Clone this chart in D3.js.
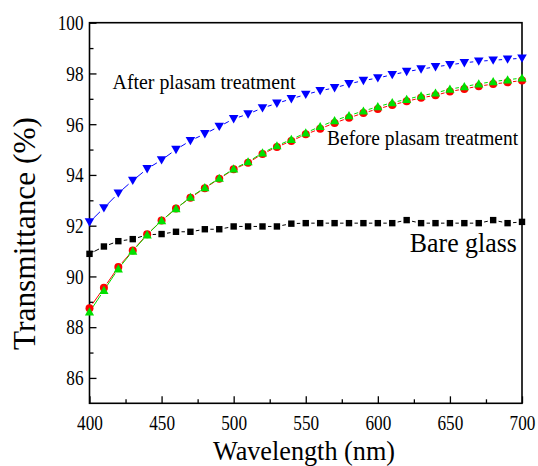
<!DOCTYPE html>
<html><head><meta charset="utf-8">
<script src="https://cdn.jsdelivr.net/npm/d3@7"></script>
<style>
html,body{margin:0;padding:0;background:#fff;}
</style></head>
<body><svg id="chart" width="538" height="466"></svg>
<script>
const wavelength = [400,410,420,430,440,450,460,470,480,490,500,510,520,530,540,550,560,570,580,590,600,610,620,630,640,650,660,670,680,690,700];
const bareGlass = [90.89,91.18,91.39,91.47,91.64,91.67,91.76,91.76,91.86,91.86,91.97,91.97,91.97,91.97,92.08,92.1,92.1,92.1,92.1,92.1,92.1,92.1,92.22,92.1,92.1,92.1,92.1,92.1,92.22,92.1,92.15];
const afterPlasma = [92.14,92.70,93.28,93.78,94.24,94.59,95.0,95.35,95.62,95.91,96.21,96.40,96.64,96.82,97.0,97.17,97.32,97.43,97.59,97.72,97.82,97.95,98.07,98.17,98.26,98.34,98.42,98.48,98.52,98.56,98.6];
const beforeGreen = [88.6,89.45,90.30,91.0,91.64,92.2,92.67,93.12,93.5,93.87,94.24,94.52,94.87,95.15,95.4,95.66,95.91,96.14,96.34,96.52,96.69,96.85,96.98,97.12,97.23,97.38,97.48,97.59,97.68,97.75,97.82];
const beforeRed = [88.75,89.55,90.37,91.02,91.66,92.2,92.68,93.1,93.48,93.85,94.22,94.48,94.83,95.1,95.34,95.6,95.82,96.05,96.25,96.44,96.6,96.76,96.9,97.04,97.14,97.29,97.39,97.5,97.58,97.65,97.72];
const xTicks = [400,450,500,550,600,650,700];
const yTicks = [86,88,90,92,94,96,98,100];

const FONT = "'Liberation Serif', 'Times New Roman', serif";
const svg = d3.select("#chart");
const L = 89.5, R = 522, T = 22.7, B = 403.3;
const x = d3.scaleLinear().domain([400,700]).range([L,R]);
const y = d3.scaleLinear().domain([85,100]).range([B,T]);

const xMinor = [425,475,525,575,625,675];
const yMinor = [87,89,91,93,95,97,99];
const gx = svg.append("g").attr("transform",`translate(0,${B})`);
gx.call(d3.axisBottom(x).tickValues(xTicks).tickSize(-7).tickPadding(0).tickFormat(d3.format("d")));
gx.append("g").call(d3.axisBottom(x).tickValues(xMinor).tickSize(-4).tickFormat(""));
const gy = svg.append("g").attr("transform",`translate(${L},0)`);
gy.call(d3.axisLeft(y).tickValues(yTicks).tickSize(-7).tickPadding(0).tickFormat(d3.format("d")));
gy.append("g").call(d3.axisLeft(y).tickValues(yMinor).tickSize(-4).tickFormat(""));
svg.selectAll(".domain").remove();
svg.selectAll("g").attr("font-family",FONT);
svg.selectAll(".tick line").attr("stroke","#000").attr("stroke-width",1.3);
gx.selectAll(".tick text").attr("font-size",20).attr("y",27).attr("dy",0).attr("fill","#000")
  .attr("font-family",FONT)
  .attr("textLength",d=>String(d).length*8.6).attr("lengthAdjust","spacingAndGlyphs");
gy.selectAll(".tick text").attr("font-size",20).attr("x",-6).attr("dy","0.34em").attr("fill","#000")
  .attr("font-family",FONT)
  .attr("textLength",d=>String(d).length*8.6).attr("lengthAdjust","spacingAndGlyphs");

svg.append("rect").attr("x",L).attr("y",T).attr("width",R-L).attr("height",B-T)
  .attr("fill","none").attr("stroke","#000").attr("stroke-width",1.6);

const plot = svg.append("g");
const GAP = 5.5;
function gappedLine(vals,color){
  const pts = wavelength.map((w,i)=>[x(w),y(vals[i])]);
  for(let i=0;i<pts.length-1;i++){
    const [x1,y1]=pts[i],[x2,y2]=pts[i+1];
    const dx=x2-x1, dy=y2-y1, len=Math.hypot(dx,dy);
    if(len<=2*GAP) continue;
    const ux=dx/len, uy=dy/len;
    plot.append("line").attr("x1",x1+ux*GAP).attr("y1",y1+uy*GAP)
      .attr("x2",x2-ux*GAP).attr("y2",y2-uy*GAP)
      .attr("stroke",color).attr("stroke-width",1);
  }
}
gappedLine(bareGlass,"#000");
gappedLine(afterPlasma,"#0000ff");
gappedLine(beforeRed,"#ff0000");
gappedLine(beforeGreen,"#00e000");

plot.selectAll(".sq").data(wavelength).join("rect")
  .attr("x",(d)=>x(d)-3.2).attr("y",(d,i)=>y(bareGlass[i])-3.2).attr("width",6.4).attr("height",6.4).attr("fill","#000");
plot.selectAll(".dn").data(wavelength).join("path")
  .attr("d",(d,i)=>{const cx=x(d),cy=y(afterPlasma[i]);return `M${cx-4.8},${cy-3.8}L${cx+4.8},${cy-3.8}L${cx},${cy+4.6}Z`;})
  .attr("fill","#0000ff");
plot.selectAll(".ci").data(wavelength).join("circle")
  .attr("cx",d=>x(d)).attr("cy",(d,i)=>y(beforeRed[i])).attr("r",4).attr("fill","#ff0000");
plot.selectAll(".up").data(wavelength).join("path")
  .attr("d",(d,i)=>{const cx=x(d),cy=y(beforeGreen[i]);return `M${cx-4.6},${cy+3.6}L${cx+4.6},${cy+3.6}L${cx},${cy-4.6}Z`;})
  .attr("fill","#00e000");

function label(xp,yp,size,len,str,rot){
  const t = svg.append("text").attr("font-family",FONT).attr("font-size",size).attr("fill","#000")
    .attr("textLength",len).attr("lengthAdjust","spacingAndGlyphs").text(str);
  if(rot) t.attr("transform",`translate(${xp},${yp}) rotate(-90)`);
  else t.attr("x",xp).attr("y",yp);
}
label(x(416),89.3,22,183,"After plasam treatment");
label(x(564.8),145,22,191,"Before plasam treatment");
label(x(622.2),251.7,27,107,"Bare glass");
label(213,460,27,182,"Wavelength (nm)");
label(35,350,31,233,"Transmittance (%)",true);
</script></body></html>
